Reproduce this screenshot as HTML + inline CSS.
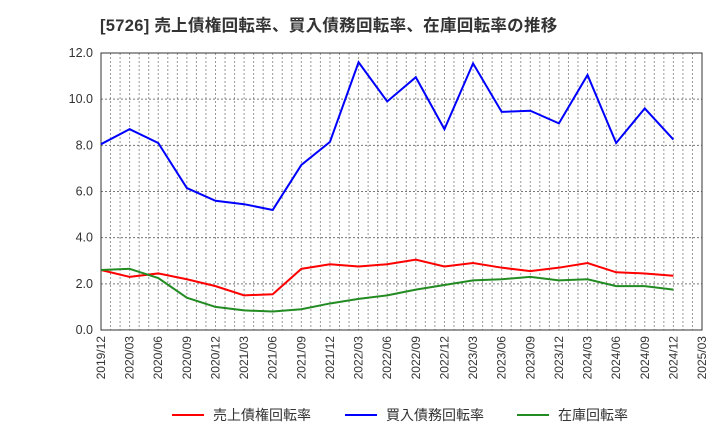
<!DOCTYPE html>
<html><head><meta charset="utf-8"><style>
body{margin:0;background:#fff;font-family:"Liberation Sans","Noto Sans CJK JP",sans-serif}
</style></head><body>
<svg id="chart" width="720" height="440" xmlns="http://www.w3.org/2000/svg">
<text x="100" y="31" font-size="16.5" font-weight="bold" fill="#333" letter-spacing="0.3">[5726]  売上債権回転率、買入債務回転率、在庫回転率の推移</text>
<g id="grid"></g><g id="axes"></g><g id="series"></g>
<g>
<g><line x1="172" y1="415" x2="204" y2="415" stroke="#f00" stroke-width="2"/><text x="213" y="420" font-size="14" fill="#333">売上債権回転率</text></g>
<g><line x1="345" y1="415" x2="377" y2="415" stroke="#00f" stroke-width="2"/><text x="386" y="420" font-size="14" fill="#333">買入債務回転率</text></g>
<g><line x1="517" y1="415" x2="549" y2="415" stroke="#228b22" stroke-width="2"/><text x="558" y="420" font-size="14" fill="#333">在庫回転率</text></g>
</g>
</svg>
<script>
const xLabels=["2019/12","2020/03","2020/06","2020/09","2020/12","2021/03","2021/06","2021/09","2021/12","2022/03","2022/06","2022/09","2022/12","2023/03","2023/06","2023/09","2023/12","2024/03","2024/06","2024/09","2024/12","2025/03"];
const yTicks=[0,2,4,6,8,10,12];
const payables=[8.05,8.7,8.1,6.15,5.6,5.45,5.2,7.15,8.15,11.6,9.9,10.95,8.7,11.55,9.45,9.5,8.95,11.05,8.1,9.6,8.25];
const receivables=[2.6,2.3,2.45,2.2,1.9,1.5,1.55,2.65,2.85,2.75,2.85,3.05,2.75,2.9,2.7,2.55,2.7,2.9,2.5,2.45,2.35];
const inventory=[2.6,2.65,2.25,1.4,1.0,0.85,0.8,0.9,1.15,1.35,1.5,1.75,1.95,2.15,2.2,2.3,2.15,2.2,1.9,1.9,1.75];
const L=101,R=702,T=53,B=330,NS="http://www.w3.org/2000/svg";
const xq=i=>L+(R-L)*i/(xLabels.length-1);
const y=v=>B-(B-T)*v/12;
function mk(t,a,p){const e=document.createElementNS(NS,t);for(const k in a)e.setAttribute(k,a[k]);p.appendChild(e);return e;}
const grid=document.getElementById('grid'),axes=document.getElementById('axes'),ser=document.getElementById('series');
const nm=(xLabels.length-1)*3;
for(let m=1;m<nm;m++){const x=L+(R-L)*m/nm;const l=mk('line',{x1:x,x2:x,y1:T,y2:B,stroke:'#999','stroke-dasharray':'2,2','stroke-width':1},grid);

}
yTicks.forEach(v=>{const l=mk('line',{x1:L,x2:R,y1:y(v),y2:y(v),stroke:'#777','stroke-dasharray':'2,2','stroke-width':1},grid);


const t=mk('text',{x:L-8,y:y(v)+4,'font-size':12.5,'text-anchor':'end',fill:'#333'},axes);t.textContent=v.toFixed(1);

});
const fr=mk('rect',{x:L,y:T,width:R-L,height:B-T,fill:'none',stroke:'#333','stroke-width':1},axes);


xLabels.forEach((s,i)=>{const x=xq(i);const t=mk('text',{x:x+4,y:B+6,'font-size':12,'text-anchor':'end',fill:'#333',transform:`rotate(-90 ${x+4} ${B+6})`},axes);t.textContent=s;

});
[[receivables,'#f00','receivables-line'],[payables,'#00f','payables-line'],[inventory,'#228b22','inventory-line']].forEach(([d,c,n])=>{
const p=mk('polyline',{points:d.map((v,i)=>xq(i)+','+y(v)).join(' '),fill:'none',stroke:c,'stroke-width':2},ser);

});
</script>
</body></html>
